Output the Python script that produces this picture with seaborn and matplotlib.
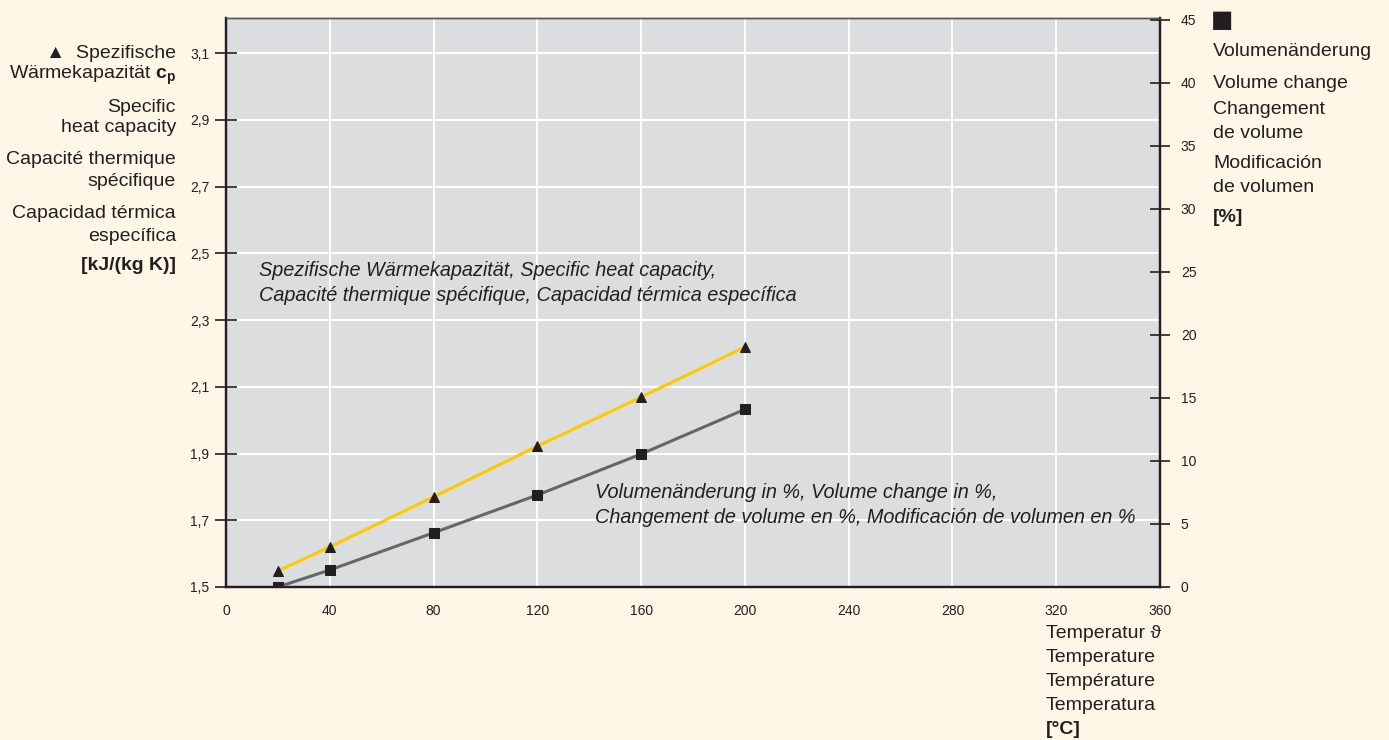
import matplotlib
matplotlib.use("Agg")
import pandas as pd
import seaborn as sns
import matplotlib.pyplot as plt
from matplotlib import font_manager

# values
temp = [20, 40, 80, 120, 160, 200]
heat_capacity = [1.548, 1.62, 1.77, 1.922, 2.069, 2.219]
volume_change = [0.0, 1.35, 4.3, 7.3, 10.55, 14.1]

x_ticks = [0, 40, 80, 120, 160, 200, 240, 280, 320, 360]
cp_ticks = [1.5, 1.7, 1.9, 2.1, 2.3, 2.5, 2.7, 2.9, 3.1]
vol_ticks = [0, 5, 10, 15, 20, 25, 30, 35, 40, 45]

df = pd.DataFrame({"temp": temp, "cp": heat_capacity, "vol": volume_change})

BG = "#fef6e7"
PANEL = "#dcdddf"
TXT = "#231f20"
YELLOW = "#ffc800"
GREY = "#666666"

sns.set_theme(style="white")
names = {f.name for f in font_manager.fontManager.ttflist}
narrow = "Liberation Sans Narrow" if "Liberation Sans Narrow" in names else "Liberation Sans"
plt.rcParams["font.family"] = [narrow, "DejaVu Sans"]
plt.rcParams["text.color"] = TXT
plt.rcParams["mathtext.fontset"] = "custom"
plt.rcParams["mathtext.rm"] = narrow
plt.rcParams["mathtext.bf"] = narrow + ":bold"

fig = plt.figure(figsize=(13.89, 7.40), dpi=100, facecolor=BG)
ax = fig.add_axes([226 / 1389, 1 - 587 / 740, (1160 - 226) / 1389, (587 - 18) / 740])
ax.set_facecolor(PANEL)
ax2 = ax.twinx()

sns.lineplot(data=df, x="temp", y="cp", ax=ax, color=YELLOW, lw=2.2,
             marker="^", markersize=7, markerfacecolor=TXT, markeredgecolor=TXT, zorder=4)
sns.lineplot(data=df, x="temp", y="vol", ax=ax2, color=GREY, lw=2.2,
             marker="s", markersize=6.5, markerfacecolor=TXT, markeredgecolor=TXT, zorder=4)

ax.set_xlim(0, 360)
ax.set_ylim(1.5, 3.205)
ax2.set_ylim(0, 45.15)
ax.set_xticks(x_ticks)
ax.set_xticklabels([str(t) for t in x_ticks])
ax.set_yticks(cp_ticks)
ax.set_yticklabels([f"{t:.1f}".replace(".", ",") for t in cp_ticks])
ax2.set_yticks(vol_ticks)
ax2.set_yticklabels([str(t) for t in vol_ticks])

ax.grid(True, color="white", lw=1.4)
ax.set_axisbelow(True)
ax.set_xlabel("")
ax.set_ylabel("")
ax2.set_ylabel("")

for a in (ax, ax2):
    for s in a.spines.values():
        s.set_color("#555555")
        s.set_linewidth(1)
    for side in ("bottom", "left", "right"):
        a.spines[side].set_color(TXT)
        a.spines[side].set_linewidth(1.6)

ax.tick_params(axis="x", direction="inout", length=16, width=1.2, colors=TXT,
               labelsize=10, pad=4)
ax.tick_params(axis="y", direction="inout", length=16, width=1.2, colors=TXT,
               labelsize=10, pad=4)
ax2.tick_params(axis="y", direction="inout", length=14, width=1.2, colors=TXT,
                labelsize=10, pad=8)

# in-plot annotations
ax.text(0.035, 0.573, "Spezifische Wärmekapazität, Specific heat capacity,\n"
        "Capacité thermique spécifique, Capacidad térmica específica",
        transform=ax.transAxes, fontsize=14.3, style="italic", va="top",
        linespacing=1.4)
ax.text(0.395, 0.183, "Volumenänderung in %, Volume change in %,\n"
        "Changement de volume en %, Modificación de volumen en %",
        transform=ax.transAxes, fontsize=14.3, style="italic", va="top",
        linespacing=1.4)

# left axis label
left_lines = [
    (53, "▲  Spezifische", "normal"),
    (75, r"Wärmekapazität $\mathbf{c}_\mathbf{p}$", "normal"),
    (107, "Specific", "normal"),
    (128, "heat capacity", "normal"),
    (160, "Capacité thermique", "normal"),
    (182, "spécifique", "normal"),
    (214, "Capacidad térmica", "normal"),
    (236, "específica", "normal"),
    (266, "[kJ/(kg K)]", "bold"),
]
for y, s, w in left_lines:
    fig.text(176 / 1389, 1 - y / 740, s, ha="right", va="center", fontsize=14,
             fontweight=w)

# right axis label
fig.text(1211 / 1389, 1 - 20 / 740, "■", fontsize=17, va="center", ha="left",
         family=["DejaVu Sans"])
right_lines = [
    (52, "Volumenänderung", "normal"),
    (83, "Volume change", "normal"),
    (109, "Changement", "normal"),
    (133, "de volume", "normal"),
    (164, "Modificación", "normal"),
    (188, "de volumen", "normal"),
    (218, "[%]", "bold"),
]
for y, s, w in right_lines:
    fig.text(1213 / 1389, 1 - y / 740, s, ha="left", va="center", fontsize=14,
             fontweight=w)

# x axis label
bottom_lines = [
    (634, "Temperatur ϑ", "normal"),
    (658, "Temperature", "normal"),
    (682, "Température", "normal"),
    (706, "Temperatura", "normal"),
    (729, "[°C]", "bold"),
]
for y, s, w in bottom_lines:
    fig.text(1046 / 1389, 1 - y / 740, s, ha="left", va="center", fontsize=14,
             fontweight=w)

fig.savefig("out.png", dpi=100, facecolor=BG)
